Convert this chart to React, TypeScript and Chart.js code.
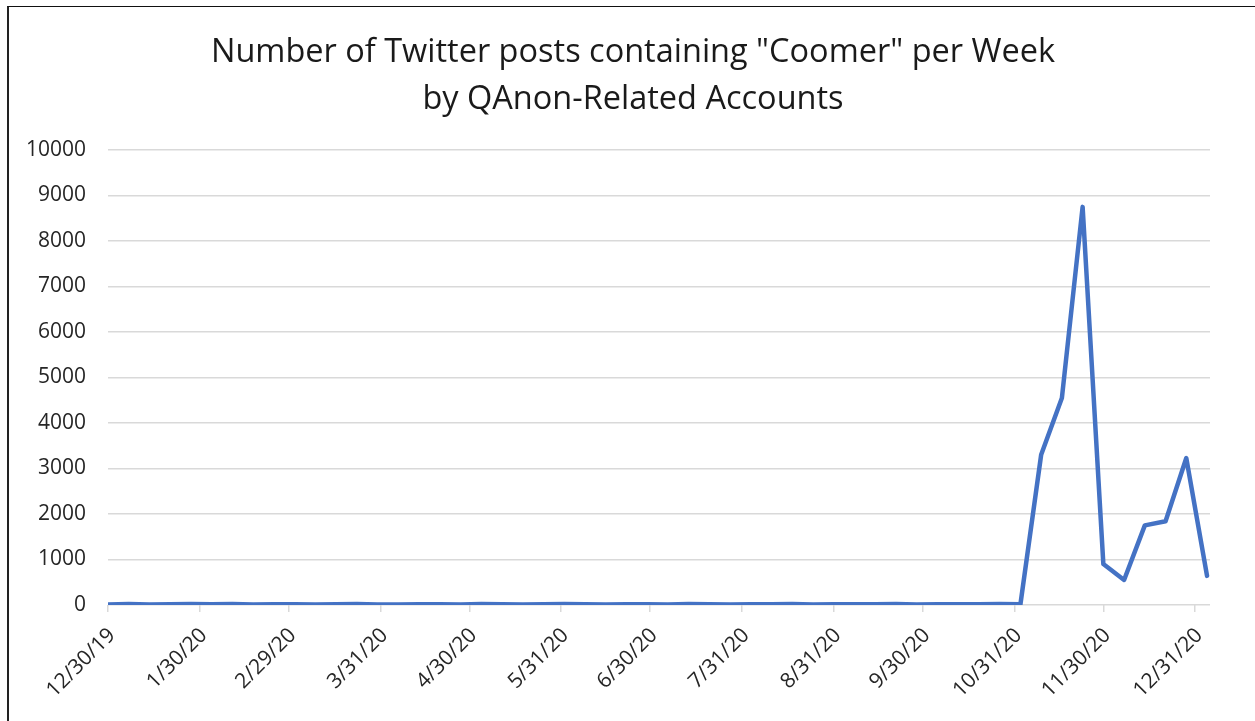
import React, { useEffect, useRef } from "react";
import { Chart, registerables } from "chart.js";

Chart.register(...registerables);

const titleLines = [
  'Number of Twitter posts containing "Coomer" per Week',
  "by QAnon-Related Accounts",
];

const weekStarts = [
  "12/30/19", "1/6/20", "1/13/20", "1/20/20", "1/27/20", "2/3/20", "2/10/20", "2/17/20", "2/24/20",
  "3/2/20", "3/9/20", "3/16/20", "3/23/20", "3/30/20", "4/6/20", "4/13/20", "4/20/20", "4/27/20",
  "5/4/20", "5/11/20", "5/18/20", "5/25/20", "6/1/20", "6/8/20", "6/15/20", "6/22/20", "6/29/20",
  "7/6/20", "7/13/20", "7/20/20", "7/27/20", "8/3/20", "8/10/20", "8/17/20", "8/24/20", "8/31/20",
  "9/7/20", "9/14/20", "9/21/20", "9/28/20", "10/5/20", "10/12/20", "10/19/20", "10/26/20",
  "11/2/20", "11/9/20", "11/16/20", "11/23/20", "11/30/20", "12/7/20", "12/14/20", "12/21/20",
  "12/28/20", "1/4/21",
];

const postCounts = [
  12, 20, 10, 18, 22, 15, 20, 12, 18,
  14, 10, 16, 20, 12, 10, 14, 18, 12,
  20, 16, 10, 14, 22, 18, 12, 16, 14,
  10, 20, 18, 12, 16, 14, 20, 12, 16,
  18, 14, 20, 12, 16, 18, 14, 20,
  15, 3300, 4550, 8750, 900, 550, 1750, 1840,
  3230, 640,
];

const xTickLabels = [
  "12/30/19", "1/30/20", "2/29/20", "3/31/20", "4/30/20", "5/31/20", "6/30/20",
  "7/31/20", "8/31/20", "9/30/20", "10/31/20", "11/30/20", "12/31/20",
];

const yTickValues = [0, 1000, 2000, 3000, 4000, 5000, 6000, 7000, 8000, 9000, 10000];

const axisStart = "12/30/19";
const axisEnd = "1/5/21";

function toDay(s: string): number {
  const [m, d, y] = s.split("/").map(Number);
  const t = Date.UTC(2000 + y, m - 1, d);
  const [m0, d0, y0] = axisStart.split("/").map(Number);
  const t0 = Date.UTC(2000 + y0, m0 - 1, d0);
  return Math.round((t - t0) / 86400000);
}

const titlePlugin = {
  id: "customTitle",
  afterDraw(chart: any) {
    const ctx = chart.ctx;
    ctx.save();
    ctx.fillStyle = "#1a1a1a";
    ctx.font = "normal 32.5px 'Open Sans', sans-serif";
    ctx.textAlign = "center";
    ctx.textBaseline = "alphabetic";
    const cx = 633;
    ctx.fillText(titleLines[0], cx, 62);
    ctx.fillText(titleLines[1], cx, 109);
    ctx.restore();
  },
};

export default function App() {
  const canvasRef = useRef<HTMLCanvasElement | null>(null);

  useEffect(() => {
    const canvas = canvasRef.current;
    if (!canvas) return;
    const tickDays = xTickLabels.map(toDay);
    const labelByDay: Record<number, string> = {};
    tickDays.forEach((d, i) => (labelByDay[d] = xTickLabels[i]));
    const points = weekStarts.map((w, i) => ({ x: toDay(w), y: postCounts[i] }));

    const chart = new Chart(canvas, {
      type: "line",
      data: {
        datasets: [
          {
            data: points,
            borderColor: "#4472C4",
            backgroundColor: "#4472C4",
            borderWidth: 4.5,
            pointRadius: 0,
            tension: 0,
            borderJoinStyle: "round",
            borderCapStyle: "round",
          },
        ],
      },
      options: {
        animation: false,
        responsive: false,
        maintainAspectRatio: false,
        layout: { padding: { left: 0, right: 45, top: 150, bottom: 0 } },
        plugins: {
          legend: { display: false },
          tooltip: { enabled: false },
          title: { display: false },
        },
        scales: {
          x: {
            type: "linear",
            min: toDay(axisStart),
            max: toDay(axisEnd),
            afterBuildTicks: (scale: any) => {
              scale.ticks = tickDays.map((v) => ({ value: v }));
            },
            afterFit: (scale: any) => {
              scale.height = 116;
            },
            ticks: {
              autoSkip: false,
              maxRotation: 45,
              minRotation: 45,
              color: "#262626",
              padding: 11,
              labelOffset: 4,
              font: { family: "'Open Sans', sans-serif", size: 21 },
              callback: (v: any) => labelByDay[Number(v)] ?? "",
            },
            grid: {
              drawOnChartArea: false,
              drawTicks: true,
              tickLength: 7,
              color: "#d9d9d9",
              lineWidth: 1.5,
            },
            border: { display: false },
          },
          y: {
            min: 0,
            max: 10000,
            afterBuildTicks: (scale: any) => {
              scale.ticks = yTickValues.map((v) => ({ value: v }));
            },
            afterFit: (scale: any) => {
              scale.width = 108;
            },
            ticks: {
              color: "#262626",
              padding: 22,
              font: { family: "'Open Sans', sans-serif", size: 21 },
              callback: (v: any) => String(v),
            },
            grid: {
              color: "#d9d9d9",
              lineWidth: 1.5,
              drawTicks: false,
            },
            border: { display: false },
          },
        },
      },
      plugins: [titlePlugin],
    } as any);
    return () => chart.destroy();
  }, []);

  return (
    <div
      style={{
        position: "fixed",
        left: 0,
        top: 0,
        width: 1255,
        height: 721,
        overflow: "hidden",
        background: "#fff",
      }}
    >
      <div
        style={{
          position: "absolute",
          left: 7,
          top: 6,
          width: 1400,
          height: 900,
          borderTop: "1.5px solid #111",
          borderLeft: "2px solid #222",
          boxSizing: "border-box",
        }}
      />
      <canvas
        ref={canvasRef}
        width={1255}
        height={721}
        style={{ position: "absolute", left: 0, top: 0, width: 1255, height: 721 }}
      />
    </div>
  );
}
